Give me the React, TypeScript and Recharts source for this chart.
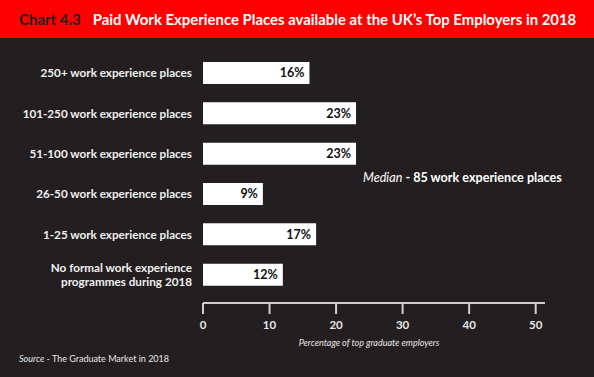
import { BarChart, Bar, XAxis, YAxis, LabelList, Label } from 'recharts'

const categories = [
  '250+ work experience places',
  '101-250 work experience places',
  '51-100 work experience places',
  '26-50 work experience places',
  '1-25 work experience places',
  'No formal work experience\nprogrammes during 2018',
]
const shares = [16, 23, 23, 9, 17, 12]
const xTicks = [0, 10, 20, 30, 40, 50]

const data = categories.map((name, i) => ({ name, value: shares[i] }))

const BG = '#231f20'
const FONT = 'Lato, "Open Sans", sans-serif'

function CategoryTick(props: any) {
  const { x, y, payload } = props
  const lines = String(payload.value).split('\n')
  const start = -((lines.length - 1) * 14) / 2
  return (
    <text x={x - 3} y={y} textAnchor="end" fill="#f0f0f0" fontSize={11.7} fontWeight={700} fontFamily={FONT}>
      {lines.map((l, i) => (
        <tspan key={i} x={x - 3} dy={i === 0 ? start + 4 : 14}>
          {l}
        </tspan>
      ))}
    </text>
  )
}

export default function App() {
  return (
    <div style={{ position: 'absolute', left: 0, top: 0, width: 594, height: 377, background: BG, fontFamily: FONT, overflow: 'hidden' }}>
      <div style={{ position: 'absolute', left: 0, top: 0, width: 594, height: 38, background: '#ff0000', display: 'flex', alignItems: 'center' }}>
        <span style={{ marginLeft: 19, color: BG, fontWeight: 700, fontSize: 15 }}>Chart 4.3</span>
        <span style={{ marginLeft: 12, color: '#ffffff', fontWeight: 700, fontSize: 14.9 }}>
          Paid Work Experience Places available at the UK’s Top Employers in 2018
        </span>
      </div>
      <BarChart
        width={594}
        height={377}
        layout="vertical"
        data={data}
        margin={{ top: 53, right: 49, left: 0, bottom: 0 }}
        barSize={22}
      >
        <XAxis
          type="number"
          domain={[0, 51.4]}
          ticks={xTicks}
          height={74}
          axisLine={{ stroke: '#d0d0d0', strokeWidth: 2 }}
          tickLine={{ stroke: '#d0d0d0', strokeWidth: 2 }}
          tickSize={11}
          tickMargin={7}
          tick={{ fill: '#e6e6e6', fontSize: 11.5, fontWeight: 700, fontFamily: FONT }}
        >
          <Label
            value="Percentage of top graduate employers"
            position="insideTop"
            offset={37}
            dx={-5}
            fill="#e6e6e6"
            fontSize={9}
            fontStyle="italic"
            fontFamily={FONT}
          />
        </XAxis>
        <YAxis
          type="category"
          dataKey="name"
          width={203}
          axisLine={false}
          tickLine={false}
          padding={{ top: 0, bottom: 8 }}
          tick={<CategoryTick />}
          interval={0}
        />
        <Bar dataKey="value" fill="#ffffff" isAnimationActive={false}>
          <LabelList
            dataKey="value"
            position="insideRight"
            offset={5}
            formatter={(v: any) => `${v}%`}
            fill="#111111"
            fontSize={12.5}
            fontWeight={700}
            fontFamily={FONT}
          />
        </Bar>
      </BarChart>
      <div style={{ position: 'absolute', left: 363, top: 170, color: '#ffffff', fontSize: 12.6, whiteSpace: 'nowrap' }}>
        <span style={{ fontStyle: 'italic' }}>Median</span>
        <span style={{ fontWeight: 700 }}> - 85 work experience places</span>
      </div>
      <div style={{ position: 'absolute', left: 19, top: 353, color: '#e6e6e6', fontSize: 9, whiteSpace: 'nowrap' }}>
        <span style={{ fontStyle: 'italic' }}>Source</span> - The Graduate Market in 2018
      </div>
    </div>
  )
}
